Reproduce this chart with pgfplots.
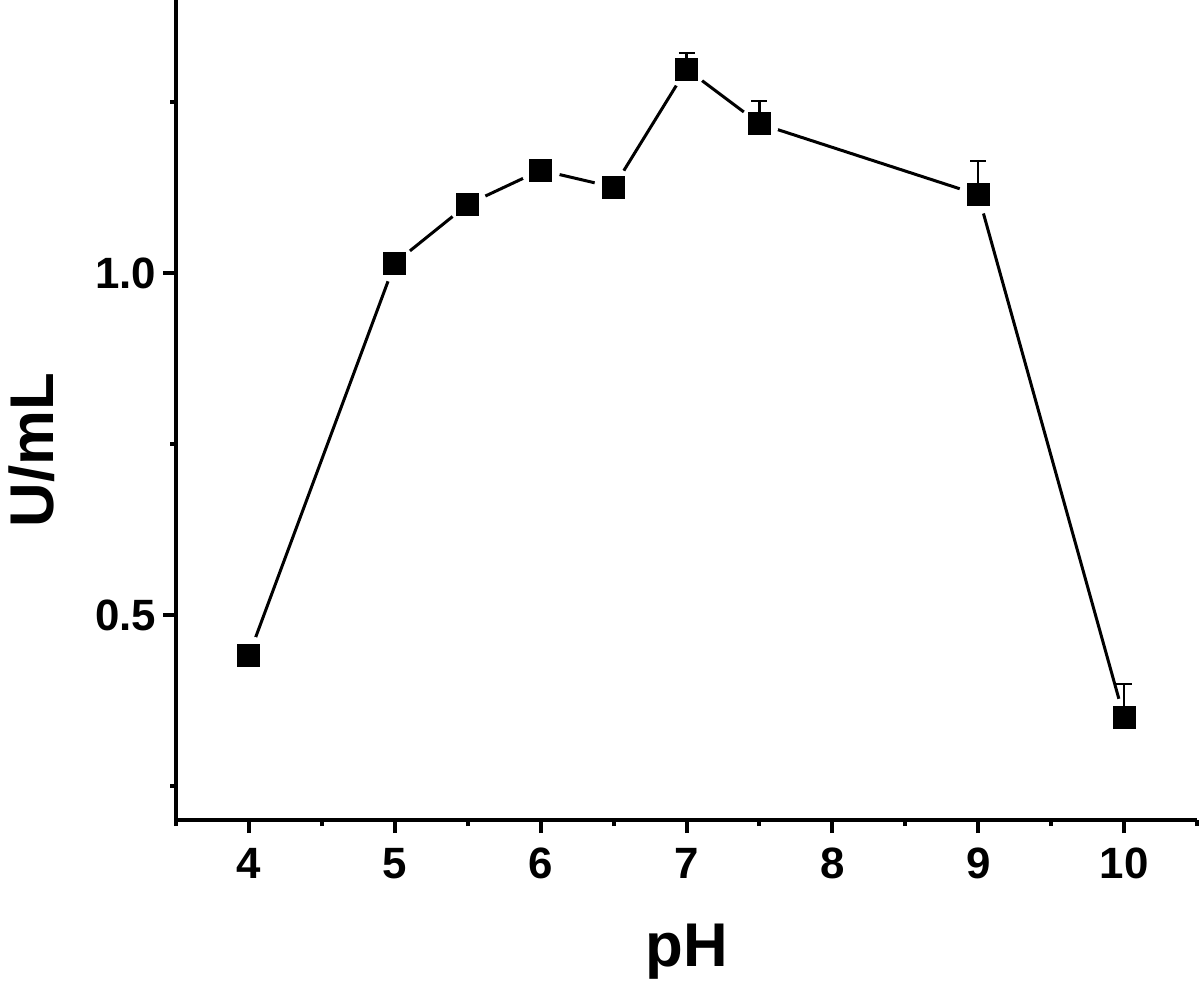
\documentclass[border=0pt]{standalone}
\usepackage{fontspec}
\setmainfont{Liberation Sans}
\usepackage{pgfplots}
\pgfplotsset{compat=1.18}

\begin{document}
\begin{tikzpicture}
\begin{axis}[
  set layers,
  scale only axis, width=510.5bp, height=410bp,
  xmin=3.5, xmax=10.5, ymin=0.2, ymax=1.4,
  axis x line*=bottom, axis y line*=left,
  axis line style={line width=2bp, -},
  tick align=outside,
  xtick={4,5,6,7,8,9,10},
  minor xtick={3.5,4.5,5.5,6.5,7.5,8.5,9.5,10.5},
  ytick={0.5,1.0}, minor ytick={0.25,0.75,1.25},
  major tick length=6.5bp, minor tick length=3bp,
  tick style={line width=2bp, black},
  /pgf/number format/assume math mode=true,
  yticklabel style={/pgf/number format/.cd, fixed, fixed zerofill, precision=1},
  ticklabel style={font=\fontsize{22}{26}\selectfont\bfseries},
  xticklabel style={yshift=-4bp},
  label style={font=\fontsize{31}{36}\selectfont\bfseries},
  xlabel={pH}, ylabel={U/mL},
  xlabel style={at={(rel axis cs:0.5,-0.179)}, anchor=base},
  ylabel style={at={(rel axis cs:-0.141,0.451)}, anchor=center},
]
% connecting line
\addplot[line width=1.5bp, black] coordinates
  {(4,0.441)(5,1.015)(5.5,1.101)(6,1.151)(6.5,1.126)(7,1.299)(7.5,1.219)(9,1.115)(10,0.350)};
% white gaps round the markers
\addplot[only marks, mark=*, mark size=9.5bp, mark options={fill=white, draw=white}] coordinates
  {(4,0.441)(5,1.015)(5.5,1.101)(6,1.151)(6.5,1.126)(7,1.299)(7.5,1.219)(9,1.115)(10,0.350)};
% markers with upper error bars
\addplot[on layer=axis foreground, only marks, mark=square*, mark size=5.5bp,
  mark options={fill=black, draw=black, line width=0.5bp},
  error bars/.cd, y dir=plus, y explicit,
  error bar style={line width=1.2bp, black},
  error mark options={rotate=90, mark size=4bp, line width=1.2bp, black}]
  coordinates {
  (4,0.441) +- (0,0)
  (5,1.015) +- (0,0)
  (5.5,1.101) +- (0,0)
  (6,1.151) +- (0,0)
  (6.5,1.126) +- (0,0)
  (7,1.299) +- (0,0.023)
  (7.5,1.219) +- (0,0.033)
  (9,1.115) +- (0,0.049)
  (10,0.350) +- (0,0.049)
};
\coordinate (sw) at (rel axis cs:0,0);
\coordinate (ne) at (rel axis cs:1,1);
\end{axis}
\pgfresetboundingbox
\path ([shift={(-88bp,-81bp)}]sw) rectangle ([shift={(1.5bp,0bp)}]ne);
\end{tikzpicture}
\end{document}
